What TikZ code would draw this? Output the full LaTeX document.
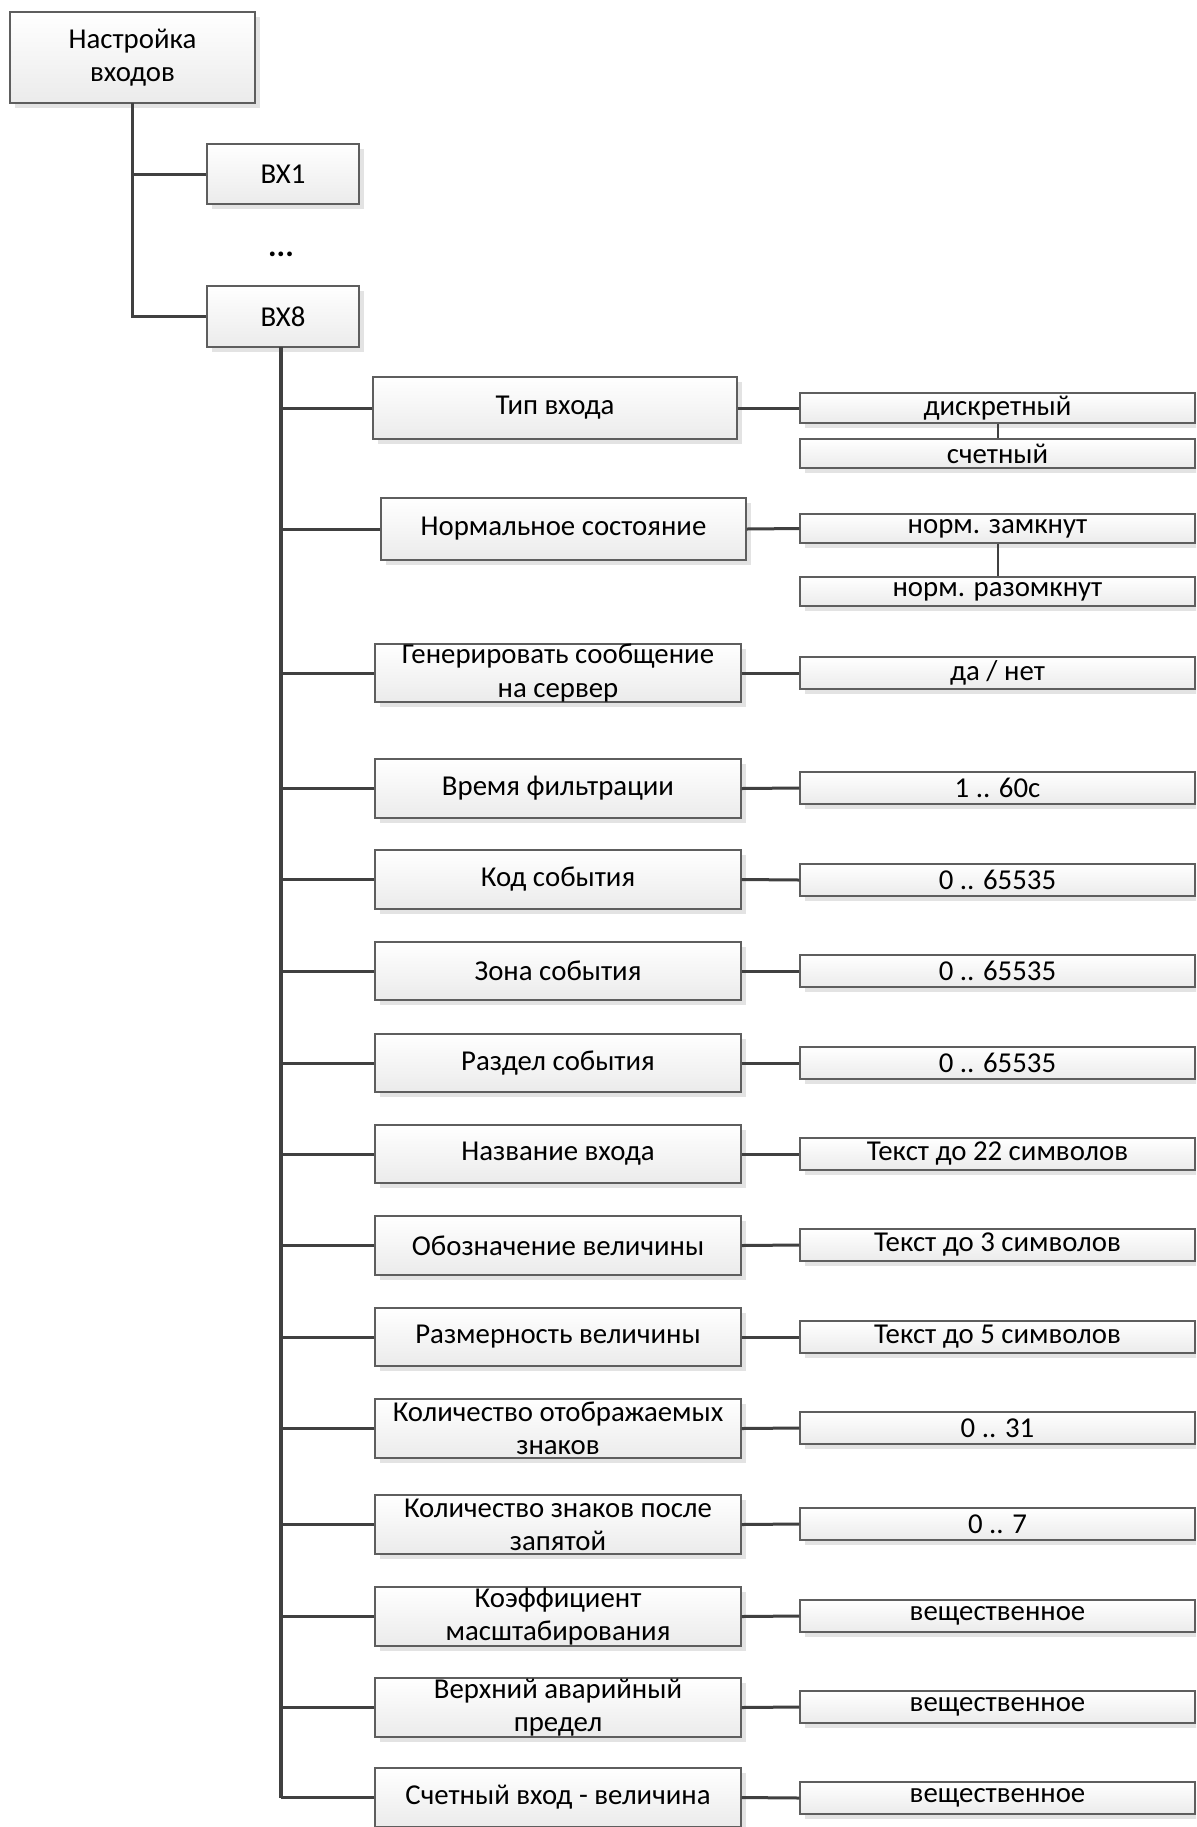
\documentclass[tikz,border=0pt]{standalone}
\usepackage{fontspec}
\setmainfont{Carlito}
\usetikzlibrary{shadows}
\definecolor{boxline}{HTML}{5E5E5E}
\definecolor{boxbottom}{HTML}{EBEBEB}
\definecolor{shadowgray}{HTML}{E3E3E3}
\definecolor{connc}{HTML}{404040}
\tikzset{
  box/.style={draw=boxline, line width=0.6pt, top color=white, bottom color=boxbottom,
    drop shadow={shadow xshift=2.5pt, shadow yshift=-2.5pt, fill=shadowgray, opacity=1},
    inner sep=0pt, align=center, font=\fontsize{14.4}{16.6}\selectfont},
  conn/.style={draw=connc, line width=1.5pt},
  trunkline/.style={draw=connc, line width=2pt},
  link/.style={draw=connc, line width=1pt},
}
\newcommand\drawbox[6]{%
  \node[box, minimum width={(#4-#2)*0.5pt}, minimum height={(#5-#3)*0.5pt}] (#1) at ({(#2+#4)/2},{(#3+#5)/2}) {#6};}
\begin{document}
\begin{tikzpicture}[x=0.5pt,y=-0.5pt]
\clip (0,0) rectangle (1196,1827);
\fill[white] (0,0) rectangle (1196,1827);
% top part
\drawbox{root}{10}{12}{255}{103}{Настройка\\входов}
\drawbox{bx1}{207}{144}{359}{204}{ВХ1}
\drawbox{bx8}{207}{286}{359}{347}{ВХ8}
\node[font=\fontsize{16}{18}\selectfont\bfseries] (dots) at (281,254) {...};
\coordinate (rt) at (132,103);
\draw[conn] (rt) -- (rt |- bx8.west) -- (bx8.west);
\draw[conn] (bx1.west) -- (bx1.west -| rt);
% left column
\drawbox{L1}{373}{377}{737}{439}{Тип входа}
\drawbox{L2}{381}{498}{746}{560}{Нормальное состояние}
\drawbox{L3}{375}{644}{741}{702}{Генерировать сообщение\\на сервер}
\drawbox{L4}{375}{759}{741}{818}{Время фильтрации}
\drawbox{L5}{375}{850}{741}{909}{Код события}
\drawbox{L6}{375}{942}{741}{1000}{Зона события}
\drawbox{L7}{375}{1034}{741}{1092}{Раздел события}
\drawbox{L8}{375}{1125}{741}{1183}{Название входа}
\drawbox{L9}{375}{1216}{741}{1275}{Обозначение величины}
\drawbox{L10}{375}{1308}{741}{1366}{Размерность величины}
\drawbox{L11}{375}{1399}{741}{1458}{Количество отображаемых\\знаков}
\drawbox{L12}{375}{1495}{741}{1554}{Количество знаков после\\запятой}
\drawbox{L13}{375}{1587}{741}{1646}{Коэффициент\\масштабирования}
\drawbox{L14}{375}{1678}{741}{1737}{Верхний аварийный\\предел}
\drawbox{L15}{375}{1768}{741}{1827}{Счетный вход - величина}
% right column
\drawbox{R1a}{800}{393}{1195}{423}{дискретный}
\drawbox{R1b}{800}{439}{1195}{468}{счетный}
\drawbox{R2a}{800}{514}{1195}{543}{норм. замкнут}
\drawbox{R2b}{800}{577}{1195}{606}{норм. разомкнут}
\drawbox{R3}{800}{657}{1195}{689}{да / нет}
\drawbox{R4}{800}{772}{1195}{804}{1 .. 60с}
\drawbox{R5}{800}{864}{1195}{896}{0 .. 65535}
\drawbox{R6}{800}{955}{1195}{987}{0 .. 65535}
\drawbox{R7}{800}{1047}{1195}{1079}{0 .. 65535}
\drawbox{R8}{800}{1138}{1195}{1170}{Текст до 22 символов}
\drawbox{R9}{800}{1229}{1195}{1261}{Текст до 3 символов}
\drawbox{R10}{800}{1321}{1195}{1353}{Текст до 5 символов}
\drawbox{R11}{800}{1412}{1195}{1444}{0 .. 31}
\drawbox{R12}{800}{1508}{1195}{1540}{0 .. 7}
\drawbox{R13}{800}{1600}{1195}{1632}{вещественное}
\drawbox{R14}{800}{1691}{1195}{1723}{вещественное}
\drawbox{R15}{800}{1782}{1195}{1814}{вещественное}
% trunk
\coordinate (tr) at (281,347);
\draw[trunkline] (tr) -- (tr |- L15.west);
\foreach \i in {1,...,15} {
  \draw[conn] (L\i.west) -- (L\i.west -| tr);
}
\draw[conn] (L1.east) -- (R1a.west);
\draw[conn] (L2.east) -- (R2a.west);
\foreach \i in {3,...,15} {
  \draw[conn] (L\i.east) -- (R\i.west);
}
\draw[link] (R1a.south) -- (R1b.north);
\draw[link] (R2a.south) -- (R2b.north);
\end{tikzpicture}
\end{document}
